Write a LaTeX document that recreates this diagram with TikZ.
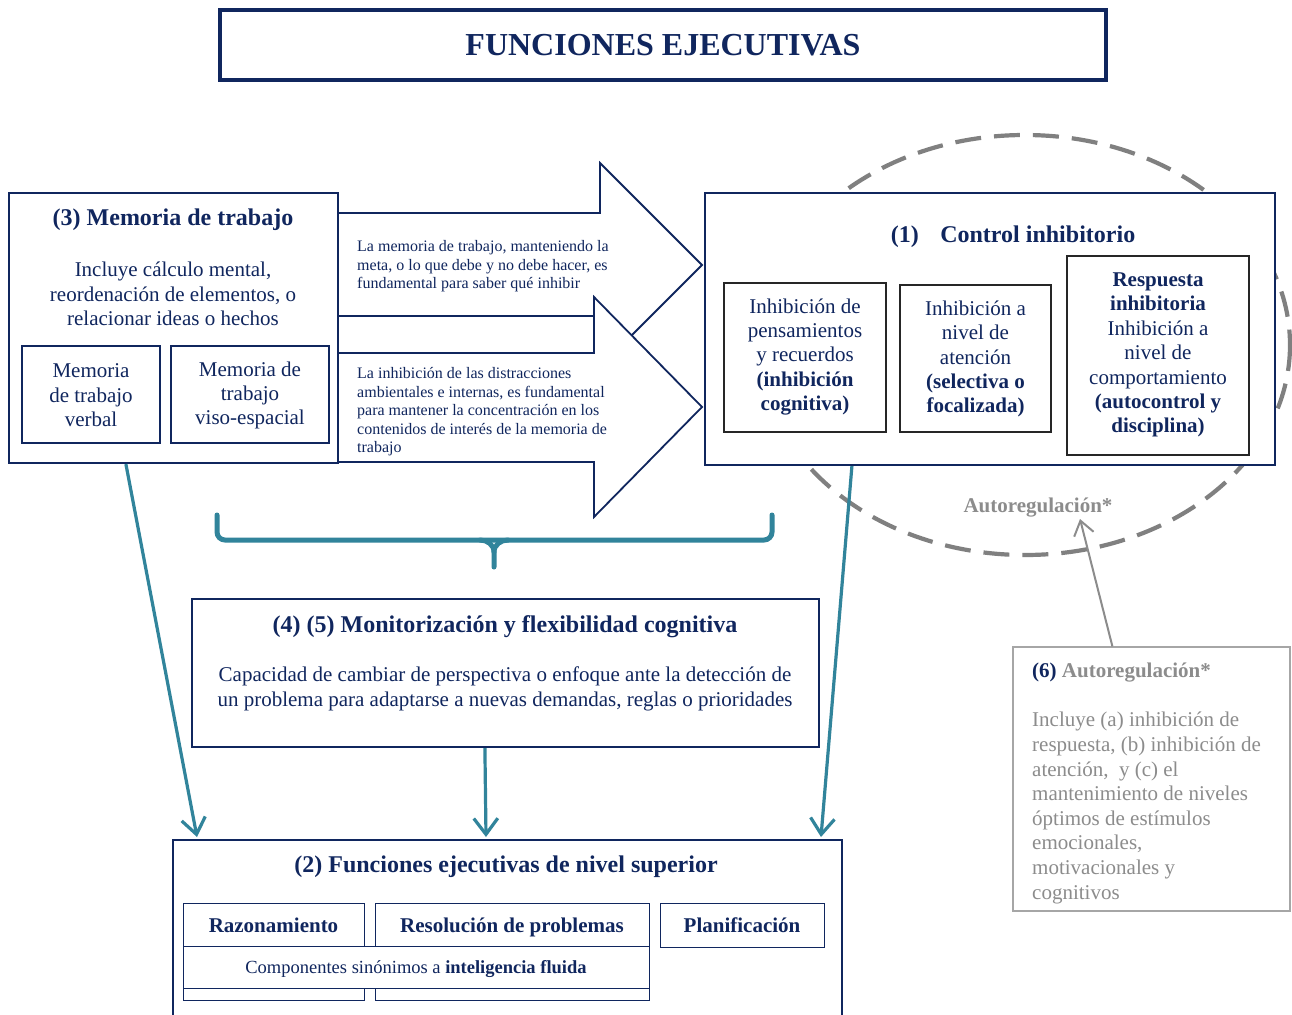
\documentclass[tikz,border=0pt]{standalone}
\usepackage{fontspec}
\setmainfont{Liberation Serif}
\usetikzlibrary{arrows.meta}
\definecolor{navy}{HTML}{10265E}
\definecolor{tealc}{HTML}{31849B}
\definecolor{grayd}{HTML}{808080}
\definecolor{grayt}{HTML}{8C8C8C}
\definecolor{grayb}{HTML}{A6A6A6}
\begin{document}
\begin{tikzpicture}[x=1pt,y=-1pt,
  frame/.style={draw=navy, line width=2.2pt, fill=white, inner sep=0pt},
  inbox/.style={draw=navy, line width=1.4pt, fill=white, inner sep=0pt},
  kbox/.style={draw=black!85, line width=1.4pt, fill=white, inner sep=0pt},
  ttl/.style={font=\fontsize{24}{28}\selectfont\bfseries, text=navy, inner sep=0pt, text height=17pt, text depth=5pt},
  bdy/.style={font=\fontsize{21}{24.4}\selectfont, text=navy, align=center, inner sep=0pt},
  one/.style={font=\fontsize{21}{24}\selectfont\bfseries, text=navy, inner sep=0pt, text height=15pt, text depth=5pt},
  sml/.style={font=\fontsize{16}{18.5}\selectfont, text=navy, align=left, inner sep=0pt},
  bigarrow/.style={draw=navy, line width=1.8pt, fill=white, line join=miter},
  tealarrow/.style={draw=tealc, line width=3.2pt, -{Straight Barb[length=16pt,width=24pt,line width=3.2pt]}},
  grayarrow/.style={draw=grayt, line width=2pt, -{Straight Barb[length=14pt,width=20pt,line width=2pt]}}
]
\useasboundingbox[fill=white] (0,0) rectangle (1292,1014);

% title
\node[draw=navy, line width=4.5pt, minimum width=886pt, minimum height=70pt, inner sep=0pt,
      font=\fontsize{32}{36}\selectfont\bfseries, text=navy] (title) at (663,45) {FUNCIONES EJECUTIVAS};

% dashed ellipse (autoregulation)
\draw[grayd, line width=4.2pt, dash pattern=on 26pt off 13pt] (1025,345) ellipse [x radius=265, y radius=210];

% big block arrows
\draw[bigarrow] (338,213) -- (600,213) -- (600,163) -- (702,265) -- (600,367) -- (600,316) -- (338,316) -- cycle;
\draw[bigarrow] (338,353) -- (594,353) -- (594,297) -- (702,407) -- (594,517) -- (594,462) -- (338,462) -- cycle;
\node[sml, anchor=west] (t1) at (357,266.5) {La memoria de trabajo, manteniendo la\\meta, o lo que debe y no debe hacer, es\\fundamental para saber qué inhibir};
\node[sml, anchor=west] (t2) at (357,412) {La inhibición de las distracciones\\ambientales e internas, es fundamental\\para mantener la concentración en los\\contenidos de interés de la memoria de\\trabajo};

% (3) Memoria de trabajo
\node[frame, minimum width=329pt, minimum height=270pt] (mem) at (173.5,328) {};
\node[ttl] (memt) at (173,219) {(3) Memoria de trabajo};
\node[bdy] (memb) at (173,294) {Incluye cálculo mental,\\reordenación de elementos, o\\relacionar ideas o hechos};
\node[inbox, minimum width=138pt, minimum height=97pt] (mv) at (91,394.5) {};
\node[bdy] at (91,395.5) {Memoria\\de trabajo\\verbal};
\node[inbox, minimum width=158pt, minimum height=97pt] (me) at (250,394.5) {};
\node[bdy] at (250,395.5) {Memoria de\\trabajo\\viso-espacial};

% (1) Control inhibitorio
\node[frame, minimum width=570pt, minimum height=272pt] (ci) at (990,329) {};
\node[ttl] (cit) at (1013,236) {(1)\hspace{0.9em}Control inhibitorio};
\node[kbox, minimum width=162pt, minimum height=149pt] (ca) at (805,357.5) {};
\node[bdy] at (805,357) {Inhibición de\\pensamientos\\y recuerdos\\\textbf{(inhibición}\\\textbf{cognitiva)}};
\node[kbox, minimum width=151pt, minimum height=147pt] (cb) at (975.5,358.5) {};
\node[bdy] at (975.5,359) {Inhibición a\\nivel de\\atención\\\textbf{(selectiva o}\\\textbf{focalizada)}};
\node[kbox, minimum width=182pt, minimum height=199pt] (cc) at (1158,355.5) {};
\node[bdy] at (1158,355) {\textbf{Respuesta}\\\textbf{inhibitoria}\\Inhibición a\\nivel de\\comportamiento\\\textbf{(autocontrol y}\\\textbf{disciplina)}};

\node[one, text=grayt] (autlab) at (1038,507) {Autoregulación*};
\coordinate (autpt) at (1080,519);

% brace
\draw[tealc, line width=5pt, rounded corners=8pt, line cap=round] (217,515) -- (217,540) -- (772,540) -- (772,515);
\draw[tealc, line width=5pt, line cap=round] (480,540) to[out=0,in=90] (494,552) -- (494,567);
\draw[tealc, line width=5pt, line cap=round] (508,540) to[out=180,in=90] (494,552);

% (4)(5)
\node[frame, minimum width=627pt, minimum height=148pt] (mon) at (505.5,673) {};
\node[ttl] (mont) at (505,626) {(4) (5) Monitorización y flexibilidad cognitiva};
\node[bdy] (monb) at (505,689) {Capacidad de cambiar de perspectiva o enfoque ante la detección de\\un problema para adaptarse a nuevas demandas, reglas o prioridades};

% (2)
\node[frame, minimum width=669pt, minimum height=200pt, anchor=north west] (sup) at (172,839) {};
\node[ttl] (supt) at (506,866) {(2) Funciones ejecutivas de nivel superior};
\node[inbox, minimum width=181pt, minimum height=97pt, anchor=north west] (raz) at (183,903) {};
\node[inbox, minimum width=274pt, minimum height=97pt, anchor=north west] (res) at (375,903) {};
\node[inbox, minimum width=164pt, minimum height=44pt, anchor=north west] (pla) at (660,903) {};
\node[inbox, minimum width=466pt, minimum height=42pt, anchor=north west] (com) at (183,946) {};
\node[one] at (273.5,927) {Razonamiento};
\node[one] at (512,927) {Resolución de problemas};
\node[one] at (742,927) {Planificación};
\node[one, font=\fontsize{18.5}{22}\selectfont, text height=13pt, text depth=4pt] at (416,968.5) {Componentes sinónimos a \textbf{inteligencia fluida}};

% (6) Autoregulación box
\node[draw=grayb, line width=1.2pt, fill=white, minimum width=277pt, minimum height=264pt, inner sep=0pt] (aut) at (1151.5,779) {};
\node[anchor=west, one, text=grayt] (autt) at (1032,672) {{\color{navy}(6)} Autoregulación*};
\node[anchor=west, inner sep=0pt, align=left, font=\fontsize{21}{24.6}\selectfont, text=grayt] (autb) at (1032,808) {Incluye (a) inhibición de\\respuesta, (b) inhibición de\\atención,\ \ y (c) el\\mantenimiento de niveles\\óptimos de estímulos\\emocionales,\\motivacionales y\\cognitivos};

% connectors
\draw[tealarrow] ([xshift=118pt]mem.south west) -- ([xshift=25pt,yshift=2pt]sup.north west);
\draw[tealarrow] ([xshift=294pt]mon.south west) -- ([xshift=314pt,yshift=2pt]sup.north west);
\draw[tealarrow] ([xshift=148pt]ci.south west) -- ([xshift=649pt,yshift=2pt]sup.north west);
\draw[grayarrow] ([xshift=100pt]aut.north west) -- (autpt);
\end{tikzpicture}
\end{document}
